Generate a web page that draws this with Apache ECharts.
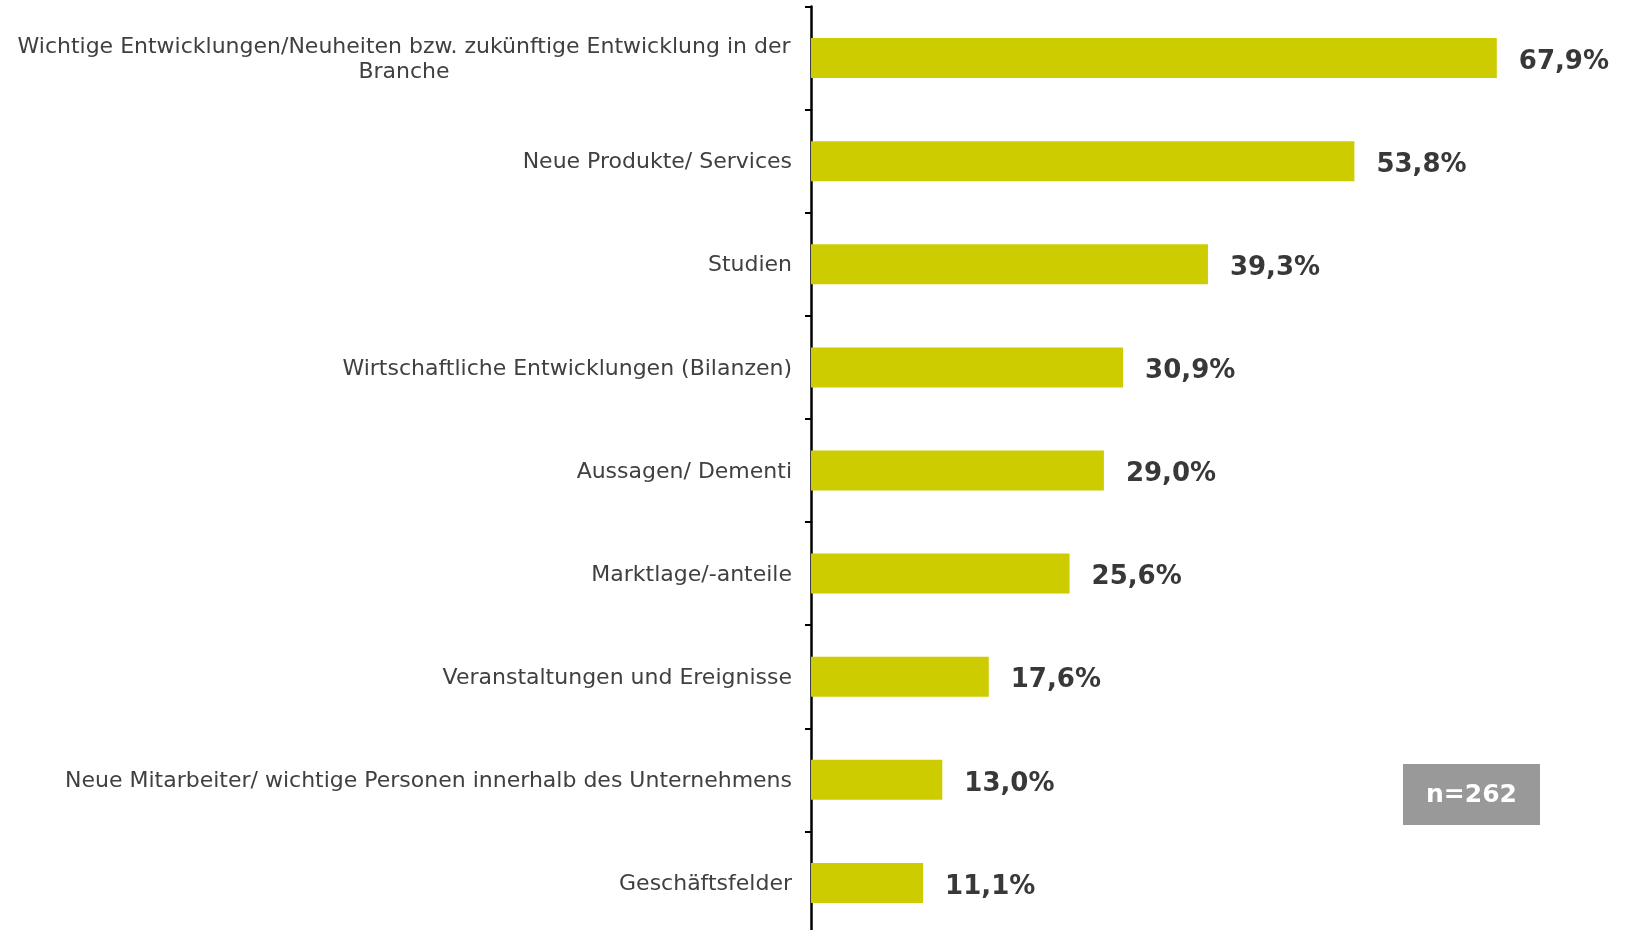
<!DOCTYPE html>
<html>
<head>
<meta charset="utf-8">
<script src="https://cdn.jsdelivr.net/npm/echarts@6/dist/echarts.min.js"></script>
<style>
  html, body { margin: 0; padding: 0; background: #fff; }
  #chart { width: 1625px; height: 930px; }
</style>
</head>
<body>
<div id="chart"></div>
<script>
// categories top to bottom
var categories = [
    'Wichtige Entwicklungen/Neuheiten bzw. zukünftige Entwicklung in der\nBranche',
    'Neue Produkte/ Services',
    'Studien',
    'Wirtschaftliche Entwicklungen (Bilanzen)',
    'Aussagen/ Dementi',
    'Marktlage/-anteile',
    'Veranstaltungen und Ereignisse',
    'Neue Mitarbeiter/ wichtige Personen innerhalb des Unternehmens',
    'Geschäftsfelder'
];
var values = [67.9, 53.8, 39.3, 30.9, 29.0, 25.6, 17.6, 13.0, 11.1];
var sampleNote = 'n=262';

var labelFont = 'DejaVu Sans';

var chart = echarts.init(document.getElementById('chart'));

var option = {
    backgroundColor: '#fff',
    animation: false,
    grid: {
        left: 811,
        width: 808,
        top: 6.5,
        height: 928,
        outerBoundsMode: 'none'
    },
    xAxis: {
        type: 'value',
        min: 0,
        max: 80,
        show: false
    },
    yAxis: {
        type: 'category',
        inverse: true,
        data: categories,
        axisLine: {lineStyle: {color: '#000', width: 2.5}},
        axisTick: {show: true, length: 6, lineStyle: {color: '#000', width: 2}},
        axisLabel: {
            margin: 19,
            color: '#404040',
            fontFamily: labelFont,
            fontSize: 22,
            lineHeight: 25,
            padding: [3, 0, 0, 0],
            formatter: function (v) {
                if (v.indexOf('\n') >= 0) {
                    var parts = v.split('\n');
                    return '{c|' + parts[0] + '}\n{c|' + parts[1] + '}';
                }
                return v;
            },
            rich: {
                c: {width: 776, align: 'center', color: '#404040', fontFamily: labelFont, fontSize: 22, lineHeight: 25}
            }
        },
        splitLine: {show: false}
    },
    series: [{
        type: 'bar',
        data: values,
        barWidth: 40,
        itemStyle: {color: '#cccc00'},
        label: {
            show: true,
            position: 'right',
            distance: 22,
            offset: [0, 4],
            color: '#383838',
            fontFamily: labelFont,
            fontWeight: 'bold',
            fontSize: 26,
            formatter: function (p) {
                return p.value.toFixed(1).replace('.', ',') + '%';
            }
        }
    }],
    graphic: [{
        type: 'group',
        left: 1403,
        top: 764,
        children: [{
            type: 'rect',
            shape: {x: 0, y: 0, width: 137, height: 61},
            style: {fill: '#999999'}
        }, {
            type: 'text',
            x: 68.5,
            y: 31,
            style: {
                text: sampleNote,
                fill: '#fff',
                font: 'bold 25px "DejaVu Sans"',
                textAlign: 'center',
                textVerticalAlign: 'middle'
            }
        }]
    }]
};

chart.setOption(option);
</script>
</body>
</html>
